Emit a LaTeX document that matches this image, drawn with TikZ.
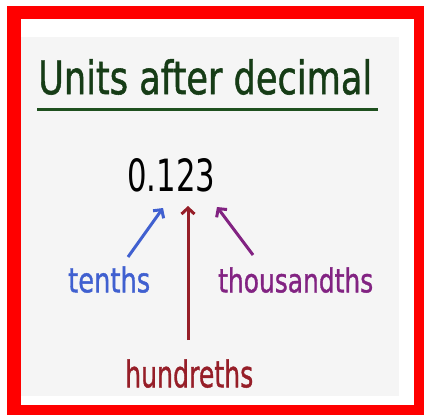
\documentclass[tikz,border=0pt]{standalone}
\usepackage{fontspec}
\setmainfont{DejaVu Sans}
\newfontfamily\heavyfont[FakeBold=1.2]{DejaVu Sans}
\usepackage{graphicx}
\usetikzlibrary{arrows.meta}
\definecolor{frame}{RGB}{255,0,0}
\definecolor{panel}{RGB}{245,245,245}
\definecolor{tgreen}{RGB}{22,60,22}
\definecolor{ugreen}{RGB}{30,80,30}
\definecolor{tblue}{RGB}{64,96,208}
\definecolor{tred}{RGB}{150,30,40}
\definecolor{tpurple}{RGB}{130,35,130}
\begin{document}
\begin{tikzpicture}[x=1pt,y=-1pt,
  lbl/.style={inner sep=0pt, anchor=south west, font=\heavyfont},
  arr/.style={line width=3pt, -{Straight Barb[length=6pt,width=13pt]}}]
\useasboundingbox (0,0) rectangle (424,415);
\fill[white] (0,0) rectangle (424,415);
\fill[frame] (7,6) rectangle (424,415);
\fill[white] (21,19) rectangle (414,405);
\fill[panel] (21,37) rectangle (399,396);
\node[lbl, text=tgreen] (title) at (38,95) {\resizebox{334pt}{35pt}{Units after decimal}};
\draw[line width=3pt, ugreen] (37,109) -- (378,109);
\node[lbl, text=black, font=\rmfamily] (num) at (127,192) {\resizebox{88pt}{33pt}{0.123}};
\node[lbl, text=tblue] (tenths) at (68,293) {\resizebox{82pt}{26pt}{tenths}};
\node[lbl, text=tpurple] (thou) at (218,293) {\resizebox{155pt}{25pt}{thousandths}};
\node[lbl, text=tred] (hund) at (125,388) {\resizebox{128pt}{28pt}{hundreths}};
\coordinate (bT) at (128,257);
\coordinate (bH) at (163,208);
\coordinate (rT) at (188,340);
\coordinate (rH) at (188,206);
\coordinate (pT) at (253,255);
\coordinate (pH) at (217,207);
\draw[arr, tblue] (bT) -- (bH);
\draw[arr, tred] (rT) -- (rH);
\draw[arr, tpurple] (pT) -- (pH);
\end{tikzpicture}
\end{document}
